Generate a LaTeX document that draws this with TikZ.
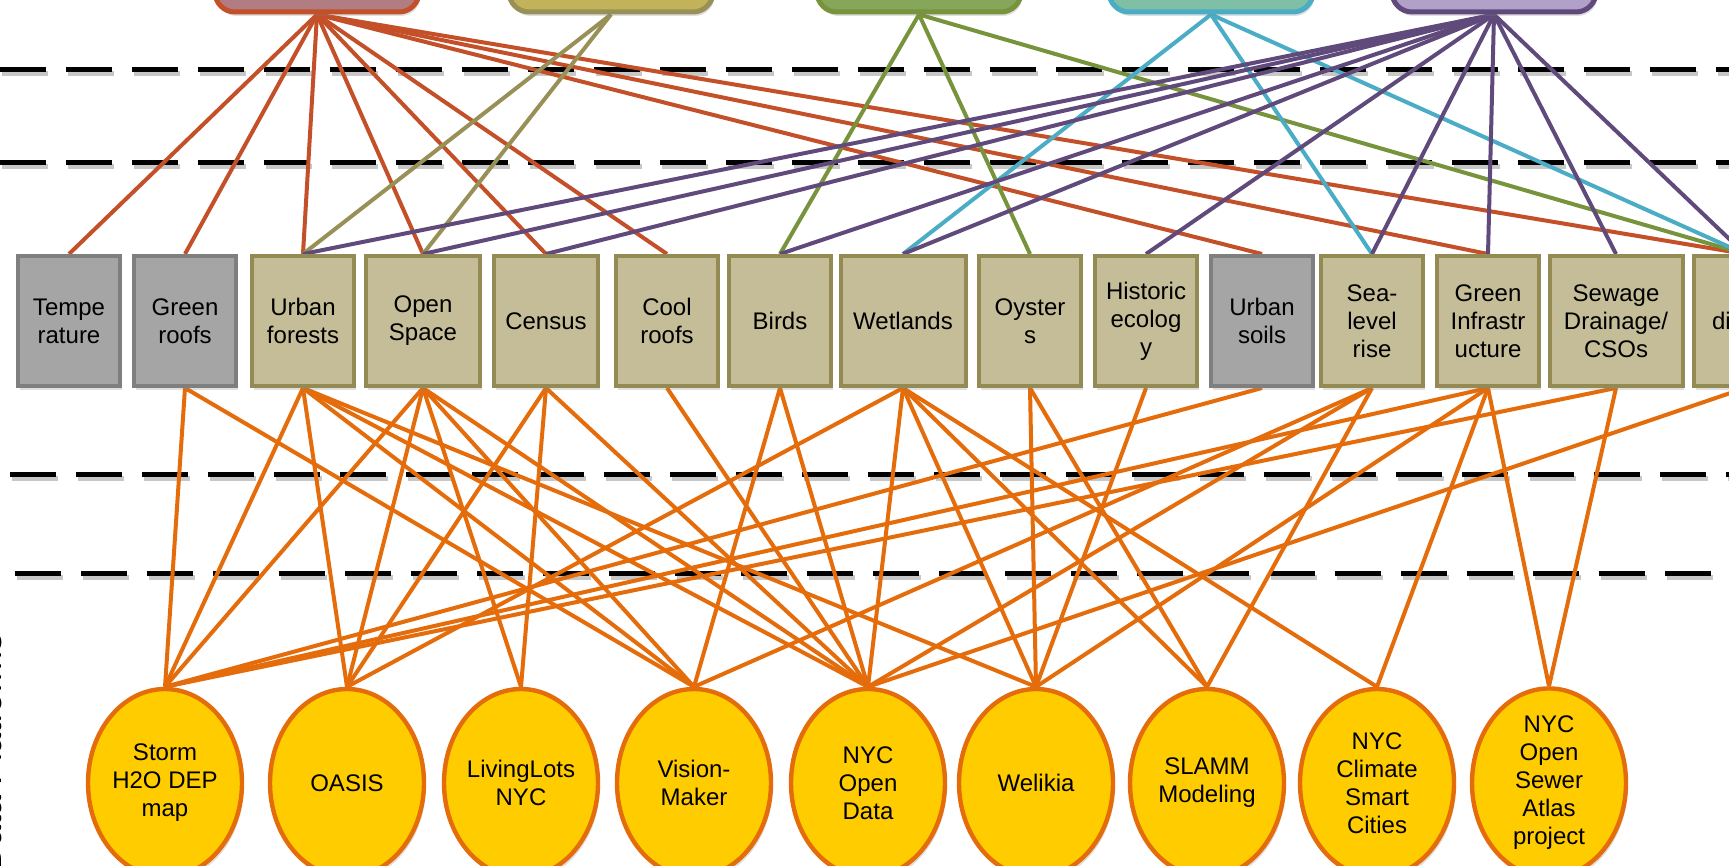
\documentclass[tikz,border=0pt]{standalone}
\usepackage{fontspec}
\setmainfont{Liberation Sans}
\usetikzlibrary{positioning,shapes.geometric,backgrounds,shadows}

\definecolor{topicfill}{RGB}{196,189,151}
\definecolor{topicline}{RGB}{148,138,84}
\definecolor{greyfill}{RGB}{165,165,165}
\definecolor{greyline}{RGB}{127,127,127}
\definecolor{platfill}{RGB}{255,204,0}
\definecolor{platline}{RGB}{228,108,10}
\definecolor{redfill}{RGB}{178,125,130}
\definecolor{redline}{RGB}{195,80,40}
\definecolor{olivefill}{RGB}{194,178,90}
\definecolor{oliveline}{RGB}{152,144,86}
\definecolor{greenfill}{RGB}{134,166,90}
\definecolor{greenline}{RGB}{119,147,60}
\definecolor{tealfill}{RGB}{126,191,165}
\definecolor{cyanline}{RGB}{75,172,198}
\definecolor{lilacfill}{RGB}{177,160,199}
\definecolor{purpleline}{RGB}{96,74,123}

\begin{document}
\begin{tikzpicture}[
    x=0.5pt, y=-0.5pt,
    font=\fontsize{12}{14}\selectfont,
    shade/.style={drop shadow={opacity=0.25, shadow xshift=0.8pt, shadow yshift=-2pt}},
    topic/.style={draw=topicline, fill=topicfill, line width=2pt, rectangle, shade,
                  minimum height=65pt, minimum width=51pt, inner sep=1pt, align=center},
    greytopic/.style={topic, draw=greyline, fill=greyfill},
    platform/.style={ellipse, draw=platline, fill=platfill, line width=2.2pt, shade,
                     minimum width=77pt, minimum height=94pt, inner sep=0pt, align=center},
    theme/.style={rectangle, rounded corners=10pt, line width=2.5pt, shade,
                  minimum width=102pt, minimum height=40pt},
    tier/.style={line width=2.5pt, dash pattern=on 23pt off 10pt,
                 preaction={draw=black!22, line width=2.5pt, dash pattern=on 23pt off 10pt,
                            transform canvas={xshift=1pt, yshift=-2pt}}},
    link/.style={line width=2pt, platline}
  ]
  \useasboundingbox (0,0) rectangle (1729,866);
  \clip (0,0) rectangle (1729,866);

  % ===== theme boxes (cut off at the top) =====
  \node[theme, draw=redline, fill=redfill]        (heat)  at (317,-28)  {};
  \node[theme, draw=oliveline, fill=olivefill]    (land)  at (611,-28)  {};
  \node[theme, draw=greenline, fill=greenfill]    (eco)   at (919,-28)  {};
  \node[theme, draw=cyanline, fill=tealfill]      (coast) at (1211,-28) {};
  \node[theme, draw=purpleline, fill=lilacfill]   (water) at (1494,-28) {};

  % ===== topic row =====
  \node[greytopic] (tempe)    at (69,321)   {Tempe\\rature};
  \node[greytopic] (groof)    at (185,321)  {Green\\roofs};
  \node[topic]     (uforest)  at (303,321)  {Urban\\forests};
  \node[topic, minimum width=57pt] (ospace) at (423,321) {Open\\Space};
  \node[topic, minimum width=52pt] (census) at (546,321) {Census};
  \node[topic]     (croof)    at (667,321)  {Cool\\roofs};
  \node[topic]     (birds)    at (780,321)  {Birds};
  \node[topic, minimum width=62.5pt] (wetland) at (903,321) {Wetlands};
  \node[topic]     (oyster)   at (1030,321) {Oyster\\s};
  \node[topic]     (historic) at (1146,321) {Historic\\ecolog\\y};
  \node[greytopic] (usoil)    at (1262,321) {Urban\\soils};
  \node[topic]     (sealevel) at (1372,321) {Sea-\\level\\rise};
  \node[topic]     (ginfra)   at (1488,321) {Green\\Infrastr\\ucture};
  \node[topic, minimum width=66.5pt] (sewage) at (1616,321) {Sewage\\Drainage/\\CSOs};
  \node[topic, text width=33pt, align=left] (dis) at (1745,321) {di};

  % ===== data platforms =====
  \node[platform] (storm)   at (165,783)  {Storm\\H2O DEP\\map};
  \node[platform] (oasis)   at (347,783)  {OASIS};
  \node[platform] (lots)    at (521,783)  {LivingLots\\NYC};
  \node[platform] (vision)  at (694,783)  {Vision-\\Maker};
  \node[platform] (opendata) at (868,783) {NYC\\Open\\Data};
  \node[platform] (welikia) at (1036,783) {Welikia};
  \node[platform] (slamm)   at (1207,783) {SLAMM\\Modeling};
  \node[platform] (climate) at (1377,783) {NYC\\Climate\\Smart\\Cities};
  \node[platform] (sewer)   at (1549,783) {NYC\\Open\\Sewer\\Atlas\\project};

  \node[rotate=90, anchor=base, font=\fontsize{18}{20}\selectfont] (plat) at (2,752) {Data Platforms};

  \begin{scope}[on background layer]
    % tier separators
    \draw[tier] (0,70) -- (1729,70);
    \draw[tier] (0,163) -- (1729,163);
    \draw[tier] (10,474) -- (1729,474);
    \draw[tier] (15,573) -- (1729,573);

    % themes -> topics
    \foreach \t in {tempe,groof,uforest,ospace,census,croof,usoil,ginfra,dis}
      \draw[line width=2pt, redline] (heat.south) -- (\t.north);
    \foreach \t in {uforest,ospace}
      \draw[line width=2pt, oliveline] (land.south) -- (\t.north);
    \foreach \t in {birds,oyster,dis}
      \draw[line width=2pt, greenline] (eco.south) -- (\t.north);
    \foreach \t in {wetland,sealevel,dis}
      \draw[line width=2pt, cyanline] (coast.south) -- (\t.north);
    \foreach \t in {uforest,ospace,census,birds,wetland,historic,sealevel,ginfra,sewage,dis}
      \draw[line width=2pt, purpleline] (water.south) -- (\t.north);

    % topics -> platforms
    \foreach \t/\p in {groof/storm, uforest/storm, ospace/storm, usoil/storm, ginfra/storm, sewage/storm,
                       uforest/oasis, ospace/oasis, census/oasis, wetland/oasis,
                       ospace/lots, census/lots,
                       groof/vision, uforest/vision, ospace/vision, birds/vision, sealevel/vision,
                       uforest/opendata, ospace/opendata, census/opendata, croof/opendata, birds/opendata,
                       wetland/opendata, sealevel/opendata, dis/opendata,
                       uforest/welikia, wetland/welikia, oyster/welikia, historic/welikia, ginfra/welikia,
                       wetland/slamm, oyster/slamm, sealevel/slamm,
                       wetland/climate, ginfra/climate,
                       ginfra/sewer, sewage/sewer}
      \draw[link] (\t.south) -- (\p.north);
  \end{scope}
\end{tikzpicture}
\end{document}
